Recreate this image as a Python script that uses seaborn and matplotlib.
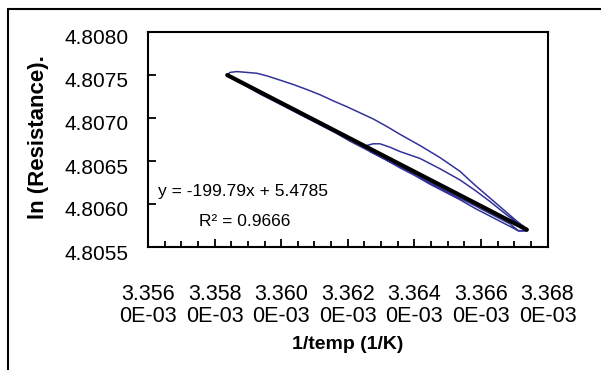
import numpy as np
import pandas as pd
import matplotlib
matplotlib.use("Agg")
import matplotlib.pyplot as plt
import matplotlib.transforms as mtransforms
from matplotlib.ticker import FuncFormatter
import seaborn as sns

# Estilo
sns.set_theme(style="white")
plt.rcParams['font.family'] = ['Liberation Sans', 'DejaVu Sans']

# Dados (1/T em 1/K, ln R)
# ramo do meio (começa no meio e vai até o canto inferior direito)
mid_x = [3.36257e-3, 3.36276e-3, 3.36297e-3, 3.36327e-3, 3.36357e-3, 3.36417e-3, 3.36477e-3,
         3.36537e-3, 3.36582e-3, 3.36627e-3, 3.36672e-3, 3.36702e-3, 3.36724e-3, 3.36738e-3]
mid_y = [4.80668, 4.80670, 4.80670, 4.80666, 4.80661, 4.80653, 4.80641,
         4.80628, 4.80616, 4.80603, 4.80589, 4.80580, 4.80575, 4.80571]

# ramo inferior, primeira volta (direita -> esquerda)
low1_x = [3.36738e-3, 3.36712e-3, 3.36687e-3, 3.36657e-3, 3.36612e-3, 3.36567e-3, 3.36522e-3,
          3.36477e-3, 3.36432e-3, 3.36387e-3, 3.36342e-3, 3.36297e-3, 3.36252e-3, 3.36207e-3,
          3.36162e-3, 3.36117e-3, 3.36072e-3, 3.36027e-3, 3.35982e-3, 3.35936e-3, 3.35891e-3,
          3.35861e-3, 3.35838e-3]
low1_y = [4.80569, 4.80569, 4.80577, 4.80583, 4.80592, 4.80601, 4.80610,
          4.80619, 4.80628, 4.80638, 4.80646, 4.80655, 4.80664, 4.80673,
          4.80683, 4.80692, 4.80701, 4.80710, 4.80719, 4.80728, 4.80738,
          4.80744, 4.80749]

# ramo superior (esquerda -> direita)
up_x = [3.35838e-3, 3.35846e-3, 3.35867e-3, 3.35897e-3, 3.35927e-3, 3.35957e-3, 3.35997e-3,
        3.36036e-3, 3.36078e-3, 3.36117e-3, 3.36156e-3, 3.36198e-3, 3.36237e-3, 3.36276e-3,
        3.36318e-3, 3.36357e-3, 3.36417e-3, 3.36477e-3, 3.36537e-3, 3.36582e-3, 3.36627e-3,
        3.36672e-3, 3.36702e-3, 3.36724e-3, 3.36738e-3]
up_y = [4.80750, 4.80753, 4.80754, 4.80753, 4.80752, 4.80749, 4.80744,
        4.80739, 4.80733, 4.80727, 4.80720, 4.80713, 4.80706, 4.80699,
        4.80690, 4.80681, 4.80668, 4.80654, 4.80638, 4.80622, 4.80607,
        4.80592, 4.80582, 4.80575, 4.80571]

# ramo inferior, segunda volta (parcial)
low2_x = [3.36738e-3, 3.36712e-3, 3.36672e-3, 3.36627e-3, 3.36582e-3, 3.36537e-3, 3.36492e-3,
          3.36447e-3, 3.36402e-3, 3.36357e-3, 3.36312e-3, 3.36267e-3]
low2_y = [4.80569, 4.80569, 4.80577, 4.80586, 4.80595, 4.80605, 4.80614,
          4.80623, 4.80633, 4.80642, 4.80652, 4.80661]

# Linha de tendência (Excel mostra os coeficientes arredondados)
slope = -199.79
intercept = 5.47847
r2 = 0.9666

df = pd.DataFrame({
    'inv_temp': mid_x + low1_x + up_x + low2_x,
    'ln_r': mid_y + low1_y + up_y + low2_y,
})
trend_x = [df['inv_temp'].min(), df['inv_temp'].max()]
df_trend = pd.DataFrame({'inv_temp': trend_x,
                         'ln_r': [slope * v + intercept for v in trend_x]})

fig = plt.figure(figsize=(6.01, 3.70), dpi=100)
ax = fig.add_axes([148 / 601, 1 - 247 / 370, 399.5 / 601, 215 / 370])

sns.lineplot(data=df, x='inv_temp', y='ln_r', sort=False, estimator=None,
             color='#333399', linewidth=1.1, ax=ax)
sns.lineplot(data=df_trend, x='inv_temp', y='ln_r', sort=False, estimator=None,
             color='black', linewidth=3.0, ax=ax)

ax.set_xlim(3.356e-3, 3.368e-3)
ax.set_ylim(4.8055, 4.8080)
ax.set_xticks(np.linspace(3.356e-3, 3.368e-3, 7))
ax.set_xticks(np.linspace(3.356e-3, 3.368e-3, 25), minor=True)
ax.set_yticks(np.linspace(4.8055, 4.8080, 6))


def fmt_x(v, pos):
    s = f"{v:.4E}"
    return s[:5] + "\n" + s[5:]


ax.xaxis.set_major_formatter(FuncFormatter(fmt_x))
ax.yaxis.set_major_formatter(FuncFormatter(lambda v, p: f"{v:.4f}"))

ax.tick_params(axis='x', which='major', direction='in', length=6, width=1.3,
               labelsize=15.5, pad=26.5, bottom=True, top=False, colors='black')
ax.tick_params(axis='x', which='minor', direction='in', length=4.5, width=1.3,
               bottom=True, top=False, colors='black')
ax.tick_params(axis='y', which='major', direction='in', length=6, width=1.3,
               labelsize=15, pad=14, left=True, right=False, colors='black')

for lab in ax.get_xticklabels():
    lab.set_linespacing(1.1)
offset = mtransforms.ScaledTranslation(0, -0.05, fig.dpi_scale_trans)
for lab in ax.get_yticklabels():
    lab.set_transform(lab.get_transform() + offset)

for sp in ax.spines.values():
    sp.set_color('black')
    sp.set_linewidth(1.5)

ax.set_xlabel('1/temp (1/K)', fontsize=14, fontweight='bold', color='black')
ax.set_ylabel('ln (Resistance).', fontsize=16, fontweight='bold', color='black')
ax.xaxis.set_label_coords(0.5, -0.414)
ax.yaxis.set_label_coords(-0.249, 0.51)

ax.text(0.025, 0.257, f"y = {slope}x + {intercept:.4f}", transform=ax.transAxes,
        fontsize=12.5, va='center', ha='left', color='black')
ax.text(0.128, 0.118, f"R² = {r2}", transform=ax.transAxes,
        fontsize=12.5, va='center', ha='left', color='black')

# Moldura externa do gráfico (Excel), cortada à direita e embaixo
fig.add_artist(plt.Line2D([8 / 601, 8 / 601], [0, 1 - 9 / 370], transform=fig.transFigure,
                          color='black', linewidth=1.5))
fig.add_artist(plt.Line2D([8 / 601, 1], [1 - 9 / 370, 1 - 9 / 370], transform=fig.transFigure,
                          color='black', linewidth=1.5))

fig.savefig("out.png", dpi=100)
plt.close(fig)
